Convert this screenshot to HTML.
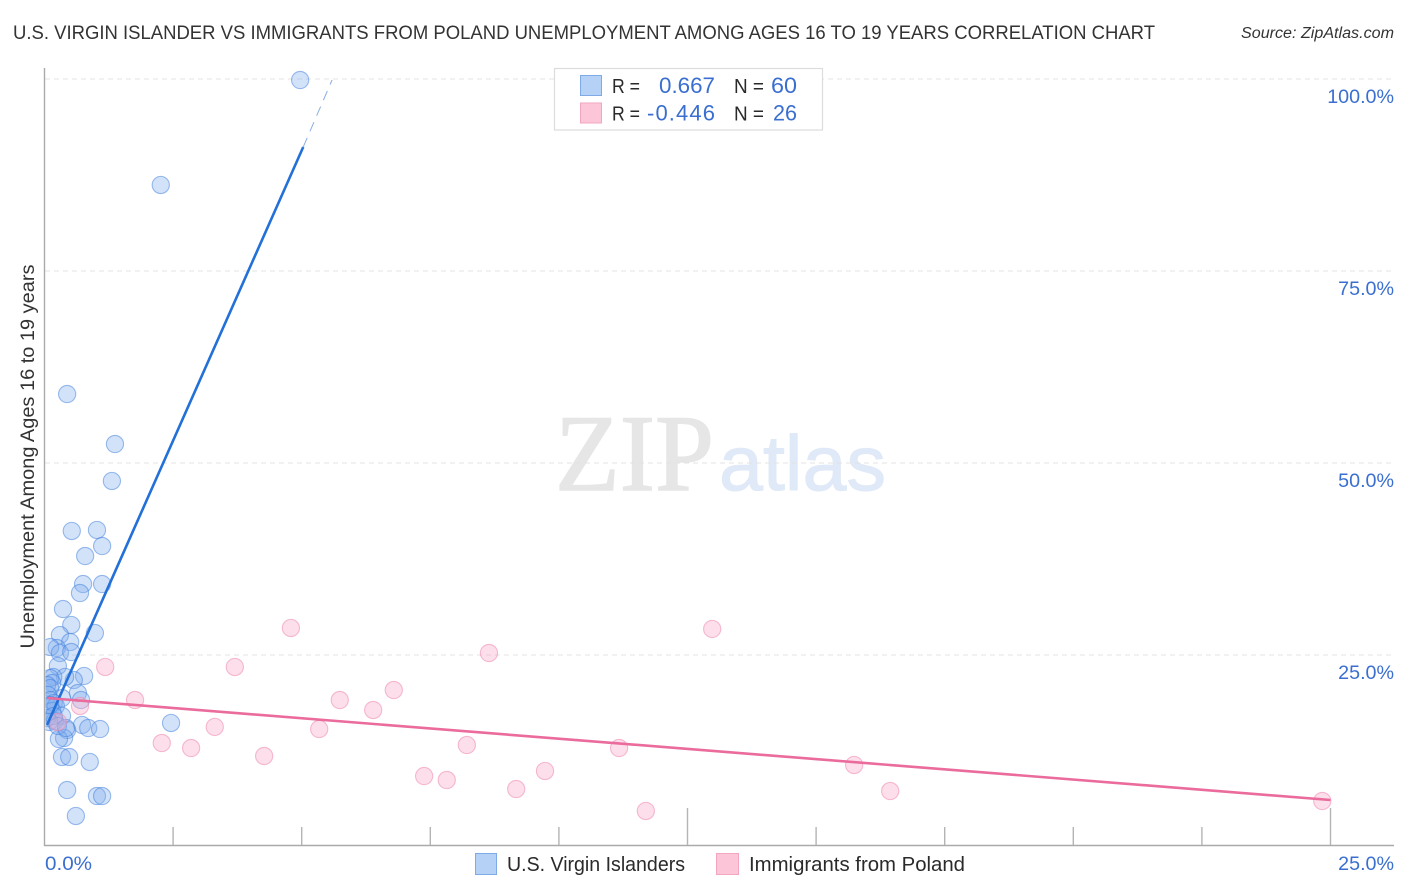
<!DOCTYPE html>
<html lang="en">
<head>
<meta charset="utf-8">
<title>Correlation chart</title>
<style>
html,body{margin:0;padding:0;background:#fff;width:1406px;height:892px;overflow:hidden}
svg{display:block;font-family:"Liberation Sans",sans-serif}
</style>
</head>
<body>
<svg id="chart" xmlns="http://www.w3.org/2000/svg" width="1406" height="892" viewBox="0 0 1406 892">
  <defs>
    <clipPath id="plot-clip"><rect x="45.5" y="60" width="1350" height="785"/></clipPath>
  </defs>
  <rect x="0" y="0" width="1406" height="892" fill="#fff"/>
  <text x="13" y="39" font-size="19.5" fill="#333" textLength="1142" lengthAdjust="spacingAndGlyphs">U.S. VIRGIN ISLANDER VS IMMIGRANTS FROM POLAND UNEMPLOYMENT AMONG AGES 16 TO 19 YEARS CORRELATION CHART</text>
  <text x="1241" y="38" font-size="15.5" font-style="italic" fill="#333" textLength="153" lengthAdjust="spacingAndGlyphs">Source: ZipAtlas.com</text>
  <g>
    <text x="555" y="490" font-family="'Liberation Serif',serif" font-size="109" fill="#e6e6e6" stroke="#e6e6e6" stroke-width="1.4" textLength="159" lengthAdjust="spacingAndGlyphs">ZIP</text>
    <text x="719" y="490" font-size="78" fill="#dfe9f7" stroke="#dfe9f7" stroke-width="1" textLength="167" lengthAdjust="spacingAndGlyphs">atlas</text>
  </g>
  <g id="grid"></g>
  <g id="axes"></g>
  <text transform="translate(34,456.5) rotate(-90)" text-anchor="middle" font-size="19.5" fill="#333" textLength="384" lengthAdjust="spacingAndGlyphs">Unemployment Among Ages 16 to 19 years</text>
  <g id="marks-blue" clip-path="url(#plot-clip)"></g>
  <g id="marks-pink" clip-path="url(#plot-clip)"></g>
  <g id="trends" clip-path="url(#plot-clip)"></g>
  <g id="tick-labels"></g>

  <g>
    <rect x="554.5" y="68.5" width="268" height="61.5" fill="#fff" stroke="#dcdcdc" stroke-width="1.2"/>
    <rect x="580.5" y="75.5" width="21" height="20" fill="#b5d1f6" stroke="#7eaae6" stroke-width="1"/>
    <rect x="580.5" y="103" width="21" height="20" fill="#fcc5d8" stroke="#f3a6c0" stroke-width="1"/>
    <g font-size="20" fill="#2a2a2a">
      <text x="612" y="93" textLength="28" lengthAdjust="spacingAndGlyphs">R =</text>
      <text x="734" y="93" textLength="30" lengthAdjust="spacingAndGlyphs">N =</text>
      <text x="612" y="120.500" textLength="28" lengthAdjust="spacingAndGlyphs">R =</text>
      <text x="734" y="120.500" textLength="30" lengthAdjust="spacingAndGlyphs">N =</text>
    </g>
    <g font-size="22" fill="#3a6fd0">
      <text x="659" y="93" textLength="56" lengthAdjust="spacingAndGlyphs">0.667</text>
      <text x="771" y="93" textLength="26" lengthAdjust="spacingAndGlyphs">60</text>
      <text x="647" y="120.500" textLength="68" lengthAdjust="spacing">-0.446</text>
      <text x="773" y="120.500" textLength="24" lengthAdjust="spacingAndGlyphs">26</text>
    </g>
  </g>

  <g>
    <rect x="475.500" y="853.500" width="21" height="21" fill="#b5d1f6" stroke="#7eaae6" stroke-width="1"/>
    <text x="507" y="871" font-size="20" fill="#2a2a2a" textLength="178" lengthAdjust="spacingAndGlyphs">U.S. Virgin Islanders</text>
    <rect x="716.500" y="853.500" width="22" height="21" fill="#fcc5d8" stroke="#f3a6c0" stroke-width="1"/>
    <text x="749" y="871" font-size="20" fill="#2a2a2a" textLength="216" lengthAdjust="spacingAndGlyphs">Immigrants from Poland</text>
  </g>
</svg>
<script>
var blueX = [4.97,2.26,0.44,1.37,1.31,1.02,0.53,1.12,0.79,0.75,1.12,0.69,0.36,0.52,0.98,0.30,0.50,0.24,0.11,0.30,0.52,0.26,0.77,0.57,0.40,0.17,0.11,0.15,0.05,0.11,0.65,0.71,0.34,0.07,0.11,0.18,0.22,0.15,0.34,0.05,0.20,0.73,0.44,0.85,1.08,2.46,0.38,0.28,0.34,0.48,0.88,0.44,1.02,1.12,0.61,0.11,0.18,0.09,0.26,0.42];
var blueY = [99.87,86.2,58.98,52.47,47.66,41.28,41.15,39.19,37.89,34.24,34.24,33.07,30.99,28.91,27.86,27.6,26.69,25.91,26.04,25.26,25.39,23.57,22.27,21.74,22.14,22.14,22.0,21.35,21.09,20.7,20.05,19.14,19.4,19.79,19.14,18.75,18.36,17.71,17.06,16.8,16.41,15.89,15.23,15.49,15.36,16.15,14.19,14.06,11.72,11.72,11.07,7.42,6.64,6.64,4.04,18.49,17.06,16.28,15.76,15.49];
var pinkX = [4.79,12.98,8.64,1.18,3.70,6.79,1.76,5.74,6.39,0.69,3.31,5.34,2.28,2.85,8.21,11.17,4.27,9.73,7.38,7.82,9.17,15.74,16.44,11.69,24.84,0.26];
var pinkY = [28.52,28.39,25.26,23.44,23.44,20.44,19.14,19.14,17.84,18.36,15.63,15.36,13.54,12.89,13.28,12.89,11.85,9.9,9.24,8.72,7.55,10.68,7.29,4.69,5.99,16.28];
var blueTrendX = [0.05,5.03,5.59];
var blueTrendY = [15.89,91.15,99.87];
var pinkTrendX = [0.05,25];
var pinkTrendY = [19.4,6.12];
var yTicks = [25,50,75,100];
var yTickLabels = ['25.0%','50.0%','75.0%','100.0%'];
var xTicks = [2.5,5,7.5,10,12.5,15,17.5,20,22.5,25];
var xMajorTicks = [12.5,25];
var xEndLabels = ['0.0%','25.0%'];

function sx(v){return 44.5+v*51.44;}
function sy(v){return 847-v*7.68;}
var NS='http://www.w3.org/2000/svg';
function mk(tag,parent,attrs){
  var el=document.createElementNS(NS,tag);
  for(var k in attrs){el.setAttribute(k,attrs[k]);}
  document.getElementById(parent).appendChild(el);
  return el;
}
yTicks.forEach(function(t,i){
  var g=mk('line','grid',{x1:45,x2:1394,y1:sy(t),y2:sy(t),stroke:'#e3e3e3','stroke-width':1,'stroke-dasharray':'5 4'});
  
  
  var l=mk('text','tick-labels',{x:1394,y:sy(t)+24,'text-anchor':'end','font-size':19.7,fill:'#3a6fd0'});
  l.textContent=yTickLabels[i];
  
  
});
var ya=mk('line','axes',{x1:44.5,x2:44.5,y1:68,y2:846,stroke:'#aaa','stroke-width':1.4});


var xa=mk('line','axes',{x1:44,x2:1394,y1:845.5,y2:845.5,stroke:'#aaa','stroke-width':1.4});


xTicks.forEach(function(t){
  var tk=mk('line','axes',{x1:sx(t),x2:sx(t),y1:xMajorTicks.indexOf(t)>=0?808:827,y2:845,stroke:'#b4b4b4','stroke-width':1.4});
  
  
});
var x0=mk('text','tick-labels',{x:45,y:870,'font-size':19.7,fill:'#3a6fd0',textLength:47,lengthAdjust:'spacingAndGlyphs'});
x0.textContent=xEndLabels[0];


var x1=mk('text','tick-labels',{x:1394,y:870,'text-anchor':'end','font-size':19.7,fill:'#3a6fd0'});
x1.textContent=xEndLabels[1];



blueX.forEach(function(v,i){
  var c=mk('circle','marks-blue',{cx:sx(v),cy:sy(blueY[i]),r:8.6,fill:'rgba(130,176,238,0.36)',stroke:'rgba(62,125,220,0.5)','stroke-width':1.1});
  
  
});
pinkX.forEach(function(v,i){
  var c=mk('circle','marks-pink',{cx:sx(v),cy:sy(pinkY[i]),r:8.6,fill:'rgba(248,175,203,0.4)',stroke:'rgba(238,135,175,0.55)','stroke-width':1.1});
  
  
});
var bs=mk('line','trends',{x1:sx(blueTrendX[0]),y1:sy(blueTrendY[0]),x2:sx(blueTrendX[1]),y2:sy(blueTrendY[1]),stroke:'#2270d8','stroke-width':2.6});


var bd=mk('line','trends',{x1:sx(blueTrendX[1]),y1:sy(blueTrendY[1]),x2:sx(blueTrendX[2]),y2:sy(blueTrendY[2]),stroke:'#8aaee2','stroke-width':1,'stroke-dasharray':'10 7'});


var ps=mk('line','trends',{x1:sx(pinkTrendX[0]),y1:sy(pinkTrendY[0]),x2:sx(pinkTrendX[1]),y2:sy(pinkTrendY[1]),stroke:'#ea6b9c','stroke-width':2.6});


</script>
</body>
</html>
